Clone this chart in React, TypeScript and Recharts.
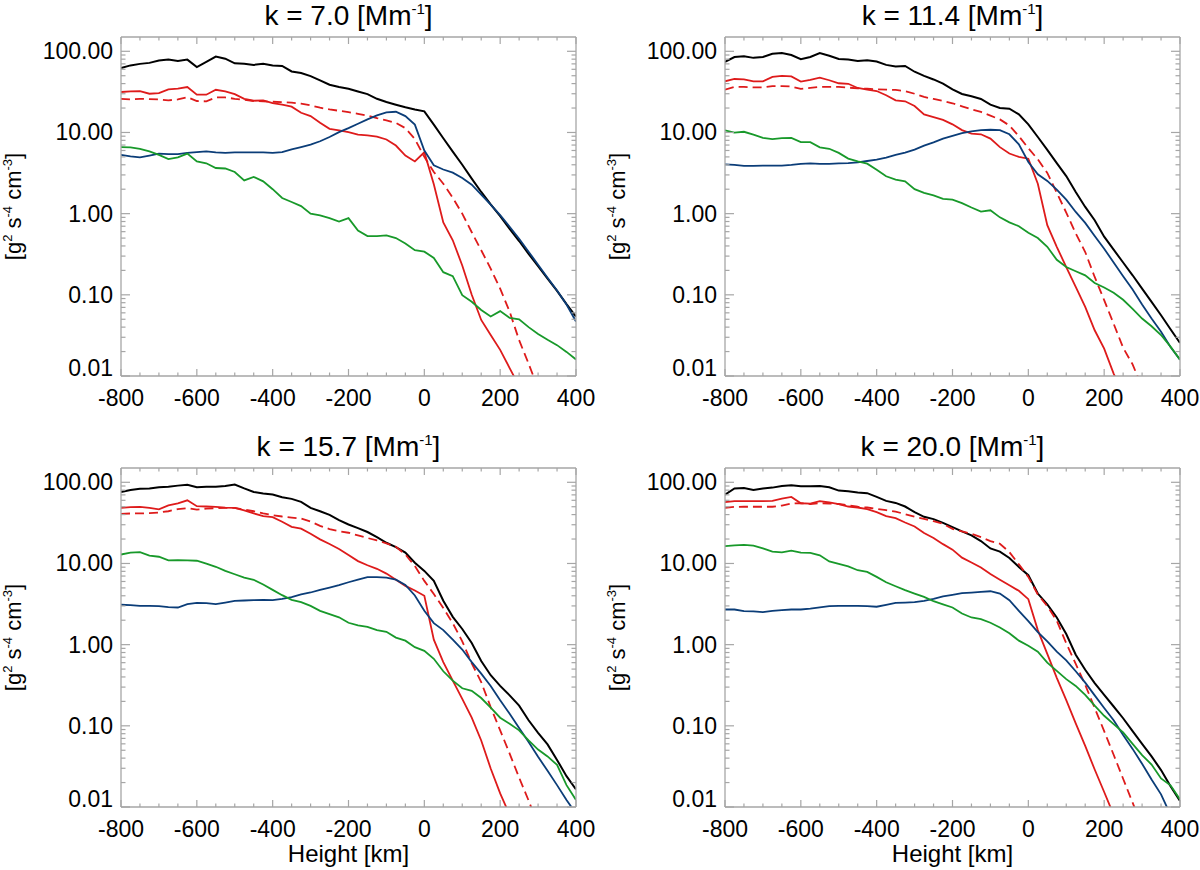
import { LineChart, Line, XAxis, YAxis } from 'recharts';

// heights [km], one sample every 25 km
const HEIGHTS = [
  -800, -775, -750, -725, -700, -675, -650, -625, -600, -575, -550, -525, -500,
  -475, -450, -425, -400, -375, -350, -325, -300, -275, -250, -225, -200, -175,
  -150, -125, -100, -75, -50, -25, 0, 25, 50, 75, 100, 125, 150, 175, 200, 225,
  250, 275, 300, 325, 350, 375, 400,
];

const X_TICKS = [
  -800, -750, -700, -650, -600, -550, -500, -450, -400, -350, -300, -250, -200,
  -150, -100, -50, 0, 50, 100, 150, 200, 250, 300, 350, 400,
];
const X_LABELS = [-800, -600, -400, -200, 0, 200, 400];

const Y_TICKS = [
  0.01, 0.02, 0.03, 0.04, 0.05, 0.06, 0.07, 0.08, 0.09,
  0.1, 0.2, 0.3, 0.4, 0.5, 0.6, 0.7, 0.8, 0.9,
  1, 2, 3, 4, 5, 6, 7, 8, 9,
  10, 20, 30, 40, 50, 60, 70, 80, 90, 100,
];
const Y_LABELS = [0.01, 0.1, 1, 10, 100];

// k = 7.0
const TOTAL_K7 = [62, 67, 70, 72, 77, 79, 76, 79, 64, 74, 86, 81, 71, 70, 68, 70, 67, 66, 56.5, 54, 49.5, 43.8, 38.7, 36.3, 34.6, 32, 29.7, 26, 23.7, 22, 20.4, 19.2, 18.2, 12.5, 8.5, 5.8, 4.0, 2.7, 1.85, 1.3, 0.93, 0.65, 0.46, 0.32, 0.225, 0.158, 0.112, 0.077, 0.054];
const RED_K7 = [31.5, 32, 32.3, 30, 30.6, 34, 34.6, 36.3, 29.2, 29.2, 33.6, 32, 29.7, 26, 24.6, 24.8, 23, 22, 20.8, 17.5, 15.9, 13.2, 11.1, 10.6, 10.1, 9.4, 9.2, 8.9, 8.2, 6.9, 5.2, 4.4, 5.7, 2.3, 0.78, 0.47, 0.23, 0.1, 0.049, 0.032, 0.021, 0.0125, 0.0075, null, null, null, null, null, null];
const DASH_K7 = [26, 25.5, 26, 25.8, 25.5, 24.9, 25.5, 27.3, 24.4, 24.2, 27, 27, 26, 25.2, 24.4, 24.2, 23.9, 23.6, 23.3, 22.6, 21.6, 20.2, 19.2, 18.5, 17.8, 17, 16.1, 15, 14.1, 13.1, 11.3, 8.3, 5.0, 3.26, 2.34, 1.57, 1.0, 0.59, 0.354, 0.21, 0.119, 0.062, 0.0276, 0.0142, 0.007, null, null, null, null];
const BLUE_K7 = [5.3, 5.08, 4.94, 5.2, 5.5, 5.4, 5.4, 5.6, 5.74, 5.85, 5.7, 5.6, 5.7, 5.7, 5.7, 5.7, 5.6, 5.74, 6.2, 6.6, 7.07, 7.8, 8.8, 10.1, 11.3, 12.8, 14.5, 16.2, 17.7, 18, 15.9, 12.5, 6.0, 3.94, 3.5, 3.2, 2.75, 2.27, 1.71, 1.29, 0.96, 0.69, 0.49, 0.34, 0.235, 0.162, 0.113, 0.076, 0.047];
const GREEN_K7 = [6.6, 6.55, 6.3, 5.85, 5.3, 4.7, 4.94, 5.5, 4.4, 4.17, 3.65, 3.6, 3.26, 2.57, 2.83, 2.5, 2.0, 1.56, 1.39, 1.24, 1.0, 0.95, 0.88, 0.8, 0.88, 0.62, 0.53, 0.53, 0.54, 0.5, 0.43, 0.354, 0.34, 0.285, 0.19, 0.17, 0.099, 0.082, 0.065, 0.054, 0.063, 0.052, 0.05, 0.04, 0.033, 0.028, 0.024, 0.0198, 0.016];

// k = 11.4
const TOTAL_K11 = [74, 85, 87, 83, 85, 93, 95, 90, 80, 85, 95, 88, 80.5, 79, 76, 77.5, 75, 68, 65, 66, 56, 49.7, 45, 40, 34, 29.8, 27.9, 25.9, 22, 20, 19.6, 16.7, 12.6, 8.8, 6.1, 4.2, 2.9, 1.85, 1.21, 0.83, 0.52, 0.36, 0.25, 0.174, 0.119, 0.082, 0.056, 0.0376, 0.0255];
const RED_K11 = [42.7, 45.6, 45, 42.7, 42.7, 48.3, 49.7, 49, 42.3, 44.4, 47.4, 44, 40.4, 39.8, 35.3, 33.7, 32.4, 28.7, 24.9, 24.2, 21.2, 16.7, 15.5, 14.3, 12.6, 10.7, 9.7, 9.5, 8.4, 6.6, 5.5, 5.0, 4.75, 2.34, 0.72, 0.39, 0.22, 0.125, 0.071, 0.0366, 0.0217, 0.0107, 0.006, null, null, null, null, null, null];
const DASH_K11 = [33.7, 36.4, 36.4, 36, 36, 37.2, 37.2, 36.8, 34.4, 35.5, 36.4, 36.4, 36.4, 35.7, 35, 34.6, 34, 33.7, 33.4, 32.4, 30, 27.4, 25.9, 24.4, 22.9, 21, 19.3, 17.9, 16.1, 14.5, 12.2, 9, 6.4, 4.67, 3.17, 1.81, 1.03, 0.57, 0.337, 0.166, 0.086, 0.044, 0.0223, 0.0139, 0.0073, null, null, null, null];
const BLUE_K11 = [4.05, 4.0, 3.87, 3.87, 3.9, 3.9, 3.9, 3.98, 4.1, 4.17, 4.1, 4.1, 4.17, 4.2, 4.29, 4.45, 4.63, 4.9, 5.28, 5.65, 6.14, 6.88, 7.57, 8.4, 9.05, 9.8, 10.3, 10.7, 10.8, 10.7, 9.5, 7.15, 4.33, 3.05, 2.53, 1.98, 1.49, 1.05, 0.77, 0.53, 0.37, 0.25, 0.169, 0.116, 0.076, 0.051, 0.035, 0.0227, 0.0159];
const GREEN_K11 = [10.6, 9.95, 10.2, 9.4, 8.6, 8.3, 8.5, 8.55, 7.6, 7.6, 6.56, 6.3, 5.6, 4.76, 4.4, 4.13, 3.48, 2.89, 2.62, 2.5, 2.0, 1.8, 1.68, 1.52, 1.49, 1.35, 1.19, 1.06, 1.1, 0.9, 0.78, 0.7, 0.58, 0.5, 0.39, 0.27, 0.22, 0.195, 0.174, 0.14, 0.123, 0.106, 0.087, 0.067, 0.051, 0.041, 0.032, 0.023, 0.0159];

// k = 15.7
const TOTAL_K15 = [76, 80.5, 83, 84, 87, 88, 91, 93.5, 87, 88, 88, 90, 94, 84, 76, 73, 70.6, 65.5, 62.5, 57.4, 48.4, 44, 39.7, 34.2, 30.2, 27.3, 24.4, 21.1, 18, 15.9, 13.6, 10.2, 8.1, 6.1, 3.47, 2.2, 1.56, 1.05, 0.63, 0.42, 0.31, 0.237, 0.177, 0.117, 0.082, 0.059, 0.038, 0.024, 0.0165];
const RED_K15 = [48.4, 49.4, 49.8, 48.4, 46.5, 52, 55, 60, 50.8, 50.3, 49.8, 48.8, 48.4, 45, 41.3, 38.3, 37.2, 32.6, 28.3, 26.8, 23.2, 19.8, 17.4, 15.1, 12.7, 10.7, 9.5, 8.6, 7.5, 6.3, 5.3, 4.65, 4.0, 1.15, 0.61, 0.36, 0.215, 0.126, 0.066, 0.0298, 0.0147, 0.008, null, null, null, null, null, null, null];
const DASH_K15 = [40.9, 41.3, 41.3, 41.7, 42.5, 44, 46.7, 48, 46, 47.5, 48, 48.4, 48.4, 46, 44, 41.3, 39.4, 37.9, 36.8, 35.8, 32.9, 29.1, 26.5, 25, 23.9, 22.2, 20.6, 19.2, 17.7, 16.1, 12.9, 9.3, 6.1, 4.2, 2.82, 1.84, 1.1, 0.59, 0.345, 0.17, 0.088, 0.0455, 0.023, 0.012, 0.006, null, null, null, null];
const BLUE_K15 = [3.1, 3.07, 3.0, 3.0, 2.98, 2.9, 2.87, 3.15, 3.27, 3.25, 3.15, 3.3, 3.47, 3.5, 3.53, 3.57, 3.53, 3.67, 3.84, 4.15, 4.39, 4.73, 5.05, 5.4, 5.87, 6.33, 6.77, 6.8, 6.7, 6.33, 5.45, 4.03, 2.61, 1.84, 1.51, 1.15, 0.87, 0.61, 0.44, 0.31, 0.206, 0.141, 0.094, 0.063, 0.0415, 0.028, 0.0186, 0.0122, 0.0083];
const GREEN_K15 = [12.9, 13.6, 13.8, 12.5, 12.1, 10.9, 11, 10.9, 10.8, 9.95, 9.1, 8.1, 7.36, 6.7, 6.3, 5.5, 4.73, 4.07, 3.57, 3.34, 3.0, 2.61, 2.38, 2.17, 1.86, 1.73, 1.66, 1.51, 1.44, 1.22, 1.12, 0.93, 0.84, 0.67, 0.47, 0.36, 0.29, 0.27, 0.22, 0.167, 0.126, 0.106, 0.088, 0.066, 0.051, 0.042, 0.033, 0.0186, 0.0122];

// k = 20.0
const TOTAL_K20 = [70.6, 84, 85, 80.5, 84, 86, 90, 92, 89.5, 89.5, 90, 87, 79, 77.5, 74.7, 73.5, 66, 59, 55.7, 50.3, 42.8, 37.6, 35.2, 31.7, 28, 24.8, 22.2, 18.9, 15.3, 14, 11.7, 9.06, 7.16, 4.26, 3.13, 2.16, 1.35, 0.75, 0.49, 0.336, 0.24, 0.173, 0.124, 0.086, 0.06, 0.042, 0.0285, 0.018, 0.0119];
const RED_K20 = [56.9, 58.5, 58.5, 58.5, 58.5, 59, 63, 66, 55.2, 54.6, 58.5, 56.4, 53.7, 50.3, 48.9, 46.6, 42.8, 38.3, 36.1, 32, 28.6, 23.7, 20.6, 17.3, 14.8, 11.8, 10.3, 8.9, 7.4, 6.3, 5.4, 4.6, 3.63, 1.51, 0.77, 0.39, 0.207, 0.107, 0.0565, 0.029, 0.0153, 0.008, null, null, null, null, null, null, null];
const DASH_K20 = [48.4, 49.8, 50, 50, 50, 50, 51.7, 54.7, 55.2, 54, 55.2, 54.7, 54, 52.2, 50, 48.9, 47.1, 45.3, 43.6, 40.5, 37.6, 35.5, 33.2, 30.8, 26.7, 24.8, 23.2, 21.1, 18.9, 17.5, 13.8, 9.77, 6.83, 4.15, 2.98, 1.97, 1.04, 0.58, 0.32, 0.166, 0.086, 0.044, 0.0223, 0.0113, 0.0058, null, null, null, null];
const BLUE_K20 = [2.71, 2.71, 2.59, 2.57, 2.52, 2.61, 2.66, 2.71, 2.71, 2.77, 2.87, 2.98, 3.0, 3.0, 3.0, 2.98, 2.93, 3.1, 3.27, 3.3, 3.34, 3.47, 3.67, 3.92, 4.1, 4.3, 4.38, 4.47, 4.55, 4.26, 3.53, 2.61, 1.95, 1.43, 1.1, 0.82, 0.64, 0.47, 0.34, 0.237, 0.166, 0.117, 0.077, 0.052, 0.034, 0.0218, 0.0143, 0.008, null];
const GREEN_K20 = [16.4, 16.7, 16.9, 16.6, 15.3, 14, 13.7, 14.4, 13.6, 13.5, 12.6, 10.6, 9.86, 9.2, 8.25, 7.87, 6.83, 5.87, 5.24, 4.69, 4.26, 3.88, 3.43, 3.13, 2.87, 2.42, 2.16, 2.06, 1.86, 1.63, 1.38, 1.12, 0.97, 0.82, 0.6, 0.475, 0.376, 0.31, 0.24, 0.177, 0.133, 0.105, 0.083, 0.06, 0.0435, 0.0334, 0.0225, 0.0185, 0.0124];

const FONT = '"Liberation Sans", Arial, Helvetica, sans-serif';
const GRAY = '#a6a6a6';
const RED = '#de1b1b';
const BLUE = '#0b3d78';
const GREEN = '#18992a';

type Arr = (number | null)[];

const rowsOf = (total: Arr, red: Arr, dash: Arr, blue: Arr, green: Arr) =>
  HEIGHTS.map((h, i) => ({ h, total: total[i], red: red[i], dash: dash[i], blue: blue[i], green: green[i] }));

const PANELS = [
  { k: '7.0', rows: rowsOf(TOTAL_K7, RED_K7, DASH_K7, BLUE_K7, GREEN_K7), left: 0, top: 0, h: 430, xTitle: false },
  { k: '11.4', rows: rowsOf(TOTAL_K11, RED_K11, DASH_K11, BLUE_K11, GREEN_K11), left: 604, top: 0, h: 430, xTitle: false },
  { k: '15.7', rows: rowsOf(TOTAL_K15, RED_K15, DASH_K15, BLUE_K15, GREEN_K15), left: 0, top: 431, h: 439, xTitle: true },
  { k: '20.0', rows: rowsOf(TOTAL_K20, RED_K20, DASH_K20, BLUE_K20, GREEN_K20), left: 604, top: 431, h: 439, xTitle: true },
];

const majorX = (v: number) => X_LABELS.includes(v);
const majorY = (v: number) => Y_LABELS.some(t => Math.abs(t - v) < t * 1e-6);

// ticks point inward, like the IDL plot box
const BottomTick = ({ x, y, payload }: any) => {
  const m = majorX(payload.value);
  return (
    <g>
      <line x1={x} x2={x} y1={y} y2={y - (m ? 7 : 3.5)} stroke={GRAY} strokeWidth={1.2} />
      {m && (
        <text x={x} y={y + 30} textAnchor="middle" fontSize={23} fontFamily={FONT} fill="#000">
          {payload.value}
        </text>
      )}
    </g>
  );
};

const TopTick = ({ x, y, payload }: any) => {
  const m = majorX(payload.value);
  return <line x1={x} x2={x} y1={y} y2={y + (m ? 7 : 3.5)} stroke={GRAY} strokeWidth={1.2} />;
};

const LeftTick = ({ x, y, payload }: any) => {
  const m = majorY(payload.value);
  const bottom = Math.abs(payload.value - 0.01) < 1e-9;
  return (
    <g>
      <line x1={x} x2={x + (m ? 9 : 4.5)} y1={y} y2={y} stroke={GRAY} strokeWidth={1.2} />
      {m && (
        <text x={x - 8} y={bottom ? y : y + 8} textAnchor="end" fontSize={23} fontFamily={FONT} fill="#000">
          {payload.value.toFixed(2)}
        </text>
      )}
    </g>
  );
};

const RightTick = ({ x, y, payload }: any) => {
  const m = majorY(payload.value);
  return <line x1={x} x2={x - (m ? 9 : 4.5)} y1={y} y2={y} stroke={GRAY} strokeWidth={1.2} />;
};

function Panel({ rows, left, top, h }: any) {
  return (
    <div style={{ position: 'absolute', left, top }}>
      <LineChart width={596} height={h} data={rows} margin={{ top: 36, right: 19, bottom: h - 377, left: 120 }}>
        <XAxis dataKey="h" type="number" domain={[-800, 400]} allowDataOverflow ticks={X_TICKS} interval={0}
          height={1} tickSize={0} tickMargin={0} tickLine={false} axisLine={{ stroke: GRAY, strokeWidth: 1.3 }}
          tick={(p: any) => <BottomTick {...p} />} />
        <XAxis xAxisId="t" orientation="top" dataKey="h" type="number" domain={[-800, 400]} allowDataOverflow ticks={X_TICKS}
          interval={0} height={1} tickSize={0} tickMargin={0} tickLine={false} axisLine={{ stroke: GRAY, strokeWidth: 1.3 }}
          tick={(p: any) => <TopTick {...p} />} />
        <YAxis scale="log" type="number" domain={[0.01, 150]} allowDataOverflow ticks={Y_TICKS} interval={0}
          width={1} tickSize={0} tickMargin={0} tickLine={false} axisLine={{ stroke: GRAY, strokeWidth: 1.3 }}
          tick={(p: any) => <LeftTick {...p} />} />
        <YAxis yAxisId="r" orientation="right" scale="log" type="number" domain={[0.01, 150]} allowDataOverflow
          ticks={Y_TICKS} interval={0} width={1} tickSize={0} tickMargin={0} tickLine={false}
          axisLine={{ stroke: GRAY, strokeWidth: 1.3 }} tick={(p: any) => <RightTick {...p} />} />
        <Line dataKey="total" stroke="#000" strokeWidth={2} dot={false} isAnimationActive={false} />
        <Line dataKey="red" stroke={RED} strokeWidth={1.8} dot={false} isAnimationActive={false} />
        <Line dataKey="dash" stroke={RED} strokeWidth={1.8} strokeDasharray="9 5" dot={false} isAnimationActive={false} />
        <Line dataKey="blue" stroke={BLUE} strokeWidth={1.8} dot={false} isAnimationActive={false} />
        <Line dataKey="green" stroke={GREEN} strokeWidth={1.8} dot={false} isAnimationActive={false} />
      </LineChart>
    </div>
  );
}

export default function App() {
  return (
    <div style={{ position: 'absolute', left: 0, top: 0, width: 1200, height: 870, background: '#fff', overflow: 'hidden' }}>
      {PANELS.map(p => <Panel key={p.k} {...p} />)}
      <svg width={1200} height={870} style={{ position: 'absolute', left: 0, top: 0, pointerEvents: 'none' }}>
        {PANELS.map(p => {
          const cx = p.left + 348.5;
          const cy = p.top + 206.5;
          return (
            <g key={p.k} fontFamily={FONT} fill="#000">
              <text x={cx} y={p.top + 25} textAnchor="middle" fontSize={28}>
                k = {p.k} [Mm<tspan dy={-11} fontSize={15}>-1</tspan><tspan dy={11}>]</tspan>
              </text>
              <text transform={`translate(${p.left + 21},${cy}) rotate(-90)`} textAnchor="middle" fontSize={22}>
                [g<tspan dy={-9} fontSize={13}>2</tspan><tspan dy={9}> s</tspan><tspan dy={-9} fontSize={13}>-4</tspan>
                <tspan dy={9}> cm</tspan><tspan dy={-9} fontSize={13}>-3</tspan><tspan dy={9}>]</tspan>
              </text>
              {p.xTitle && (
                <text x={cx} y={p.top + 431} textAnchor="middle" fontSize={24}>Height [km]</text>
              )}
            </g>
          );
        })}
      </svg>
    </div>
  );
}
